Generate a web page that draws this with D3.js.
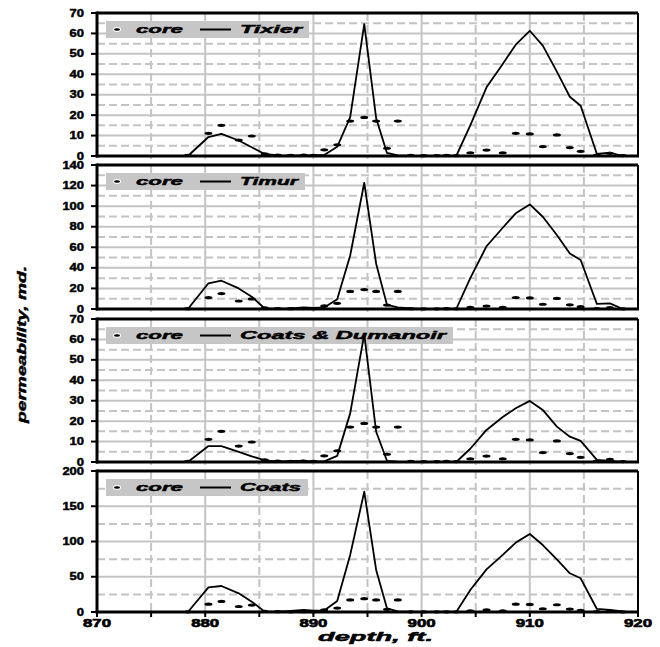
<!DOCTYPE html>
<html><head><meta charset="utf-8">
<script src="https://cdn.jsdelivr.net/npm/d3@7"></script>
<style>html,body{margin:0;padding:0;background:#fff}</style>
</head><body>
<svg id="c" width="660" height="647"></svg>
<script>
// ---- data ----
const depth = [878.4,880.3,881.5,883.1,884.3,885.5,886.7,887.9,889.1,890.0,891.0,892.2,893.4,894.7,895.8,896.8,897.8,899.0,900.2,901.4,902.3,903.2,904.5,906.0,907.5,908.7,910.0,911.2,912.5,913.7,914.7,916.2,917.4,918.6];
const core = [0.3,11.1,15.0,7.8,9.8,1.0,0.5,0.3,0.4,0.3,3.0,5.5,17.1,18.9,17.1,3.8,17.1,0.3,0.2,0.2,0.3,0.2,1.6,2.9,1.6,11.1,10.8,4.6,10.3,4.1,2.3,0.5,1.3,0.2];
const tixier = [0,9.3,10.8,7.6,4.3,1.0,0.3,0.2,0.3,0.3,0.5,4.5,19,64.5,18.5,1.5,0.3,0,0,0,0,0,15,33.6,45,54.5,61.3,54,41.3,29,24.6,1.0,1.6,0];
const timur = [0,25,27.5,20,12,0.5,0.3,0.5,1.5,1.0,1.5,9.4,52,122.7,44,4,1.5,0.5,0,0,0.3,0,30,61,79,93,101.7,89.7,72,54,47.6,4.9,5.5,0];
const coatsDumanoir = [0,7.8,7.8,5.0,2.8,0.8,0.3,0.4,0.6,0.3,0.3,3.0,23.8,62.6,14.8,0.6,0.2,0,0,0,0,0,6.5,15.7,22,26.3,29.9,25.5,17.3,12.4,10.3,1.0,0.5,0];
const coats = [0,35,36.9,26.5,14.7,0.5,0.5,1.5,3,2,2,15.6,81,170.6,59.6,5.2,1,0.5,0,0,0.5,0,31.2,60.5,81,98.4,110.6,95,74.7,54.9,47.8,4.3,3,1];
const seriesNames = ["Tixier","Timur","Coats & Dumanoir","Coats"];
const seriesValues = [tixier,timur,coatsDumanoir,coats];
const yMax = [70,140,70,200];
const yMajor = [10,20,10,50];
const xTicks = [870,880,890,900,910,920];
const xLabel = "depth, ft.";
const yLabel = "permeability, md.";
const legendCore = "core";

// ---- layout ----
const svg = d3.select("#c");
svg.append("rect").attr("width",660).attr("height",647).attr("fill","#fff");
const L = 97, R = 638;
const x = d3.scaleLinear().domain([870,920]).range([L,R]);
const panelTops = [13,165,319,471], panelBots = [156,309,462,612];
const nameW = [62,58,206,61];
const FONT = "'Liberation Sans', Arial, sans-serif";
const grid = "#c4c4c4";

function stext(g, str, px, py, size, width, opts={}) {
  const t = g.append("text").attr("x",px).attr("y",py)
    .attr("font-family",FONT).attr("font-weight","bold")
    .attr("font-size",size).attr("fill","#000")
    .attr("stroke","#000").attr("stroke-width",opts.sw ?? 0.45)
    .attr("textLength",width).attr("lengthAdjust","spacingAndGlyphs")
    .text(str);
  if (opts.italic) t.attr("font-style","italic");
  if (opts.anchor) t.attr("text-anchor",opts.anchor);
  if (opts.transform) t.attr("transform",opts.transform);
  return t;
}

seriesNames.forEach((name,i)=>{
  const top = panelTops[i], bot = panelBots[i];
  const y = d3.scaleLinear().domain([0,yMax[i]]).range([bot,top]);
  const g = svg.append("g");
  // horizontal grid
  const minorVals = d3.range(yMajor[i]/2, yMax[i], yMajor[i]);
  const majorVals = d3.range(yMajor[i], yMax[i], yMajor[i]);
  g.selectAll(".hm").data(minorVals).join("line")
    .attr("x1",L).attr("x2",R).attr("y1",d=>y(d)).attr("y2",d=>y(d))
    .attr("stroke",grid).attr("stroke-width",2).attr("stroke-dasharray","8,4");
  g.selectAll(".hM").data(majorVals).join("line")
    .attr("x1",L).attr("x2",R).attr("y1",d=>y(d)).attr("y2",d=>y(d))
    .attr("stroke",grid).attr("stroke-width",2);
  // vertical grid
  const vMinor = d3.range(875,920,10), vMajor = d3.range(880,920,10);
  g.selectAll(".vm").data(vMinor).join("line")
    .attr("x1",d=>x(d)).attr("x2",d=>x(d)).attr("y1",top).attr("y2",bot+3)
    .attr("stroke",grid).attr("stroke-width",2).attr("stroke-dasharray","8,4");
  g.selectAll(".vM").data(vMajor).join("line")
    .attr("x1",d=>x(d)).attr("x2",d=>x(d)).attr("y1",top).attr("y2",bot+3)
    .attr("stroke",grid).attr("stroke-width",2);
  // legend box
  const bt = top + 8, bh = 17;
  const nameX = 240;
  g.append("rect").attr("x",106).attr("y",bt).attr("width",nameX+nameW[i]+7-106).attr("height",bh)
    .attr("fill","#c6c6c6");
  g.append("ellipse").attr("cx",117).attr("cy",bt+bh/2).attr("rx",4).attr("ry",2.4).attr("fill","#fff");
  g.append("ellipse").attr("cx",117).attr("cy",bt+bh/2).attr("rx",3).attr("ry",1.3).attr("fill","#000");
  stext(g, legendCore, 136, bt+12, 11.5, 47, {italic:true});
  g.append("line").attr("x1",200).attr("x2",231).attr("y1",bt+bh/2).attr("y2",bt+bh/2)
    .attr("stroke","#000").attr("stroke-width",2);
  stext(g, name, nameX, bt+12, 11.5, nameW[i], {italic:true});
  // data line
  const line = d3.line().x((d,k)=>x(depth[k])).y(d=>y(d));
  g.append("path").attr("d",line(seriesValues[i])).attr("fill","none")
    .attr("stroke","#000").attr("stroke-width",1.8).attr("stroke-linejoin","round");
  // core markers
  g.selectAll(".core").data(core).join("ellipse")
    .attr("cx",(d,k)=>x(depth[k])).attr("cy",d=>y(d)).attr("rx",4).attr("ry",1.6).attr("fill","#000");
  // frame
  g.append("line").attr("x1",L).attr("x2",R).attr("y1",top).attr("y2",top).attr("stroke","#000").attr("stroke-width",3);
  g.append("line").attr("x1",R).attr("x2",R).attr("y1",top).attr("y2",bot).attr("stroke","#000").attr("stroke-width",2);
  g.append("line").attr("x1",L-1).attr("x2",R+1).attr("y1",bot).attr("y2",bot).attr("stroke","#000").attr("stroke-width",3);
  g.append("line").attr("x1",L).attr("x2",L).attr("y1",top-1.5).attr("y2",bot+1.5).attr("stroke","#000").attr("stroke-width",3);
  // y ticks & labels
  const yt = d3.range(0, yMax[i]+0.001, yMajor[i]);
  g.selectAll(".yt").data(yt).join("line")
    .attr("x1",L-6).attr("x2",L).attr("y1",d=>y(d)).attr("y2",d=>y(d)).attr("stroke","#000").attr("stroke-width",2);
  yt.forEach(v=>{
    const s = String(v);
    stext(g, s, 84, y(v)+3.6, 10, 7.2*s.length, {anchor:"end"});
  });
});

// x axis ticks & labels on bottom panel
const bb = panelBots[3];
svg.selectAll(".xt").data(d3.range(870,921,5)).join("line")
  .attr("x1",d=>x(d)).attr("x2",d=>x(d)).attr("y1",bb).attr("y2",bb+5)
  .attr("stroke","#000").attr("stroke-width",2);
xTicks.forEach(v=>{
  const s = String(v);
  stext(svg, s, x(v), 627, 10.5, 28, {anchor:"middle", sw:0.6});
});
stext(svg, xLabel, 375.5, 641, 12, 115, {anchor:"middle", italic:true});
stext(svg, yLabel, 0, 0, 12.5, 157, {anchor:"middle", italic:true, transform:"translate(26,344.5) rotate(-90)"});
</script>
</body></html>
